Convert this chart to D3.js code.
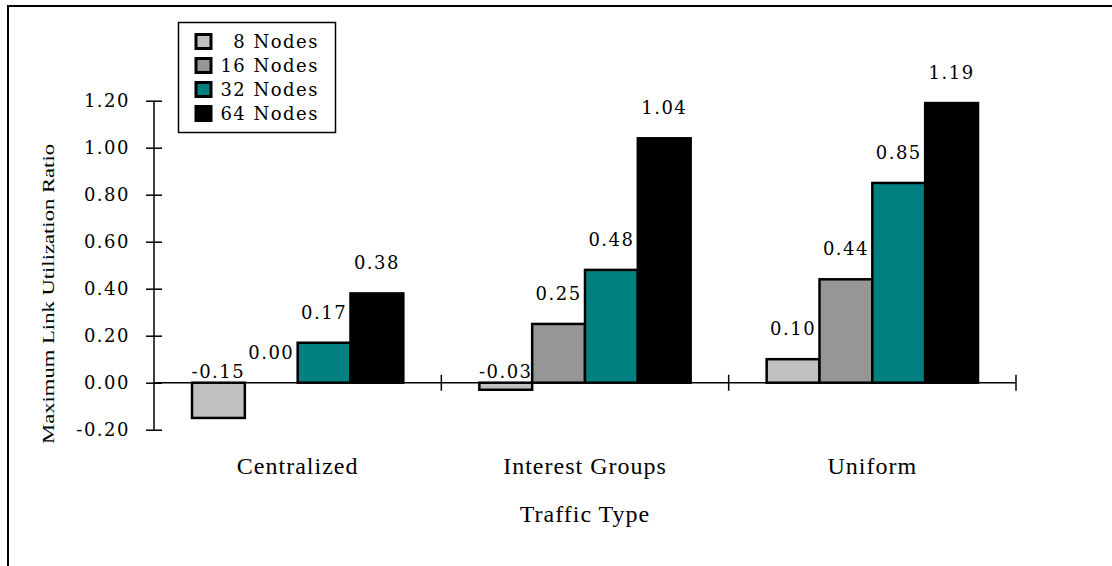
<!DOCTYPE html>
<html>
<head>
<meta charset="utf-8">
<script src="https://cdn.jsdelivr.net/npm/d3@7"></script>
<style>
  body { margin: 0; background: #fff; }
  svg { display: block; }
  .num { font-family: "DejaVu Serif", serif; font-size: 18px; letter-spacing: 1.5px; fill: #000; }
  .cat { font-family: "Liberation Serif", serif; font-size: 24px; letter-spacing: 1px; fill: #000; }
</style>
</head>
<body>
<svg id="chartSvg" width="1112" height="566"></svg>
<script>
// data
const categories = ["Centralized", "Interest Groups", "Uniform"];
const seriesNames = ["8 Nodes", "16 Nodes", "32 Nodes", "64 Nodes"];
const seriesColors = ["#c0c0c0", "#969696", "#008080", "#000000"];
const values8 = [-0.15, -0.03, 0.10];
const values16 = [0.00, 0.25, 0.44];
const values32 = [0.17, 0.48, 0.85];
const values64 = [0.38, 1.04, 1.19];
const yTicks = [-0.2, 0, 0.2, 0.4, 0.6, 0.8, 1.0, 1.2];

const allValues = [values8, values16, values32, values64];

// plain hyphen for negatives, like the original
const fmt = v => (Math.abs(v) < 1e-9 ? 0 : v).toFixed(2);

const svg = d3.select("#chartSvg");

// outer frame (only top and left edges are visible)
svg.append("path")
  .attr("d", "M8,566 L8,6 L1112,6")
  .attr("fill", "none")
  .attr("stroke", "#000")
  .attr("stroke-width", 2);

const left = 154, right = 1016;

const y = d3.scaleLinear()
  .domain([-0.2, 1.2])
  .range([429.7, 100.7]);

const x0 = d3.scaleBand()
  .domain(categories)
  .range([left, right]);

const x1 = d3.scaleBand()
  .domain(seriesNames)
  .range([38, x0.bandwidth() - 38]);

// table of bars built from the arrays
const bars = [];
categories.forEach((c, ci) => {
  seriesNames.forEach((s, si) => {
    bars.push({ cat: c, series: s, color: seriesColors[si], value: allValues[si][ci] });
  });
});

// Y axis
const yAxis = svg.append("g")
  .attr("transform", `translate(${left},0)`)
  .call(d3.axisLeft(y).tickValues(yTicks).tickFormat(fmt).tickSize(8).tickPadding(16));
yAxis.select(".domain").remove();
yAxis.selectAll(".tick line").attr("x1", 8).attr("stroke-width", 1.5);
yAxis.selectAll(".tick text")
  .attr("class", "num")
  .attr("font-family", null)
  .attr("font-size", null);
yAxis.append("line")
  .attr("y1", y(1.2)).attr("y2", y(-0.2))
  .attr("stroke", "#000").attr("stroke-width", 1.5);

// bars
svg.append("g")
  .selectAll("rect")
  .data(bars)
  .enter()
  .append("rect")
  .attr("x", d => x0(d.cat) + x1(d.series))
  .attr("y", d => y(Math.max(0, d.value)))
  .attr("width", x1.bandwidth())
  .attr("height", d => Math.abs(y(d.value) - y(0)))
  .attr("fill", d => d.color)
  .attr("stroke", "#000")
  .attr("stroke-width", 2.5);

// X axis line and category ticks
const xg = svg.append("g");
xg.append("line")
  .attr("x1", left).attr("x2", right)
  .attr("y1", y(0)).attr("y2", y(0))
  .attr("stroke", "#000").attr("stroke-width", 1.5);
xg.selectAll("line.tick")
  .data(categories)
  .enter()
  .append("line")
  .attr("class", "tick")
  .attr("x1", d => x0(d) + x0.bandwidth())
  .attr("x2", d => x0(d) + x0.bandwidth())
  .attr("y1", y(0) - 8).attr("y2", y(0) + 8)
  .attr("stroke", "#000").attr("stroke-width", 1.5);

// category labels
svg.selectAll("text.catlabel")
  .data(categories)
  .enter()
  .append("text")
  .attr("class", "cat catlabel")
  .attr("x", d => x0(d) + x0.bandwidth() / 2)
  .attr("y", 474)
  .attr("text-anchor", "middle")
  .text(d => d);

// value labels
svg.selectAll("text.vlabel")
  .data(bars)
  .enter()
  .append("text")
  .attr("class", "num vlabel")
  .attr("x", d => x0(d.cat) + x1(d.series) + x1.bandwidth() / 2)
  .attr("y", d => d.value < 0 ? y(0) - 5 : y(d.value) - 24)
  .attr("text-anchor", "middle")
  .text(d => fmt(d.value));

// axis titles
svg.append("text")
  .attr("class", "cat")
  .attr("x", (left + right) / 2)
  .attr("y", 522)
  .attr("text-anchor", "middle")
  .text("Traffic Type");

svg.append("text")
  .attr("transform", "translate(54,294) rotate(-90)")
  .attr("text-anchor", "middle")
  .attr("font-family", "Liberation Serif, serif")
  .attr("font-size", 17)
  .attr("textLength", 300)
  .attr("lengthAdjust", "spacingAndGlyphs")
  .text("Maximum Link Utilization Ratio");

// legend
const legend = svg.append("g");
legend.append("rect")
  .attr("x", 178.5).attr("y", 22.5)
  .attr("width", 157).attr("height", 110)
  .attr("fill", "#fff").attr("stroke", "#000").attr("stroke-width", 1.5);

const rows = legend.selectAll("g.row")
  .data(seriesNames)
  .enter()
  .append("g")
  .attr("class", "row")
  .attr("transform", (d, i) => `translate(0,${41.5 + i * 24})`);

rows.append("rect")
  .attr("x", 196).attr("y", -7)
  .attr("width", 15).attr("height", 14)
  .attr("fill", (d, i) => seriesColors[i])
  .attr("stroke", "#000").attr("stroke-width", 3);

rows.append("text")
  .attr("class", "num")
  .attr("x", 319)
  .attr("y", 6)
  .attr("text-anchor", "end")
  .text(d => d);
</script>
</body>
</html>
